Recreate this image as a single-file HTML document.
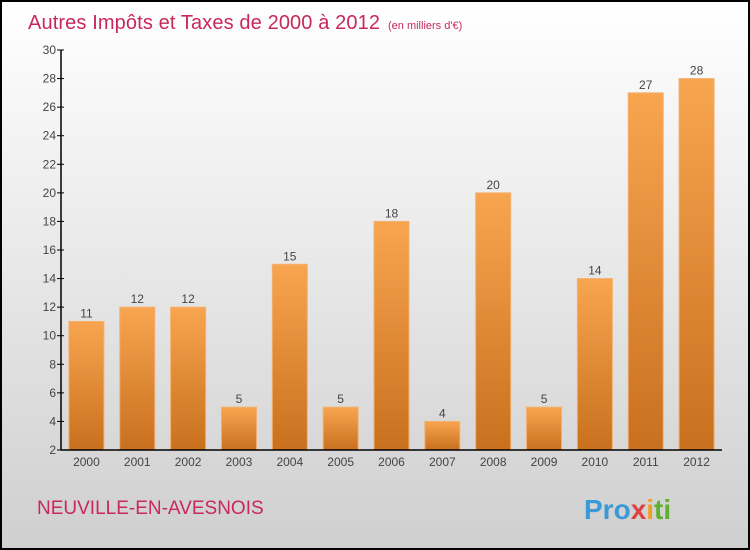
<!DOCTYPE html>
<html><head><meta charset="utf-8"><style>
body{margin:0}
#c{width:750px;height:550px;position:relative;box-sizing:border-box;border:2px solid #000;background:linear-gradient(#fff,#cfcfcf);font-family:"Liberation Sans",sans-serif;overflow:hidden}
</style></head><body>
<div id="c">
<svg id="s" width="746" height="546" style="position:absolute;left:0;top:0">
<defs><linearGradient id="g" x1="0" y1="0" x2="0" y2="1"><stop offset="0" stop-color="#f8a550"/><stop offset="1" stop-color="#c8701e"/></linearGradient></defs>
<text x="26" y="27" font-size="20" fill="#c8285a" textLength="352">Autres Impôts et Taxes de 2000 à 2012</text>
<text x="386" y="27" font-size="11" fill="#c8285a">(en milliers d'€)</text>
<text x="35" y="512" font-size="19" fill="#c8285a">NEUVILLE-EN-AVESNOIS</text>
<text x="582" y="517" font-size="28" font-weight="bold" fill="#3a9ad8">Pro<tspan fill="#e04040">x</tspan><tspan fill="#f0a020">i</tspan><tspan fill="#60b030">ti</tspan></text>
<g id="plot"></g>
</svg>
</div>
<script>
const years=["2000","2001","2002","2003","2004","2005","2006","2007","2008","2009","2010","2011","2012"];
const values=[11,12,12,5,15,5,18,4,20,5,14,27,28];
const yTicks=[2,4,6,8,10,12,14,16,18,20,22,24,26,28,30];
const ox=-2,oy=-2;
const X0=61+ox,X1=722+ox,Y0=450+oy,Y1=50+oy,ymin=2,ymax=30;
const y=v=>Y0-(v-ymin)/(ymax-ymin)*(Y0-Y1);
const step=(X1-X0)/years.length;
const xc=i=>X0+step*(i+0.5);
const ns="http://www.w3.org/2000/svg";
const p=document.getElementById('plot');
function mk(t,a,txt){const e=document.createElementNS(ns,t);for(const k in a)e.setAttribute(k,a[k]);if(txt!=null)e.textContent=txt;p.appendChild(e);return e;}
values.forEach((v,i)=>{
 const r=mk('rect',{x:xc(i)-17.5,y:y(v),width:35,height:Y0-y(v),fill:'url(#g)',stroke:'#f4b070','stroke-width':1});
 
 
 const t=mk('text',{x:xc(i),y:y(v)-4,'font-size':12,fill:'#444','text-anchor':'middle'},String(v));
 
 
 const xl=mk('text',{x:xc(i),y:Y0+16,'font-size':12,fill:'#444','text-anchor':'middle'},years[i]);
 
 
});
yTicks.forEach(v=>{
 const l=mk('line',{x1:X0-4,x2:X0+3,y1:y(v),y2:y(v),stroke:'#000'});
 
 
 const t=mk('text',{x:X0-5,y:y(v)+4,'font-size':12,fill:'#444','text-anchor':'end'},String(v));
 
 
});
const ya=mk('line',{x1:X0,x2:X0,y1:Y1,y2:Y0,stroke:'#000','stroke-width':1.5});


const xa=mk('line',{x1:X0,x2:X1,y1:Y0,y2:Y0,stroke:'#000','stroke-width':1.5});


</script>
</body></html>
